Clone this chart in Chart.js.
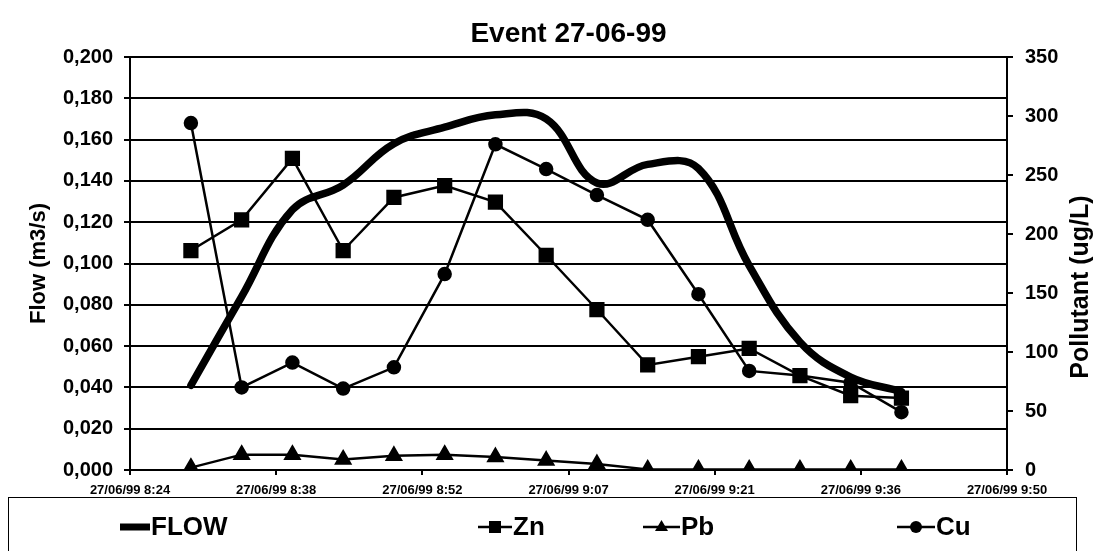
<!DOCTYPE html>
<html>
<head>
<meta charset="utf-8">
<title>Event 27-06-99</title>
<script src="https://cdn.jsdelivr.net/npm/chart.js@4/dist/chart.umd.min.js"></script>
<style>
  html, body { margin:0; padding:0; background:#fff; }
  #wrap { width:1095px; height:551px; position:relative; }
</style>
</head>
<body>
<div id="wrap"><canvas id="eventChart" width="1095" height="551"></canvas></div>
<script>
// dados (amostras a cada 5 min)
const sampleTimes = ['8:30','8:35','8:40','8:45','8:50','8:55','9:00','9:05','9:10','9:15','9:20','9:25','9:30','9:35','9:40'];
const flowValues  = [0.041, 0.084, 0.126, 0.138, 0.158, 0.166, 0.172, 0.170, 0.139, 0.148, 0.146, 0.099, 0.062, 0.045, 0.038];
const znValues    = [186, 212, 264, 186, 231, 241, 227, 182, 136, 89, 96, 103, 80, 63, 61];
const pbValues    = [2, 13, 13, 9, 12, 13, 11, 8, 5, 0.5, 0.5, 0.5, 0.5, 0.5, 0.5];
const cuValues    = [294, 70, 91, 69, 87, 166, 276, 255, 233, 212, 149, 84, 80, 74, 49];
const xTickLabels = ['27/06/99 8:24','27/06/99 8:38','27/06/99 8:52','27/06/99 9:07','27/06/99 9:21','27/06/99 9:36','27/06/99 9:50'];
const xMin = 504, xStep = 14.4;   // minutos desde 0h, passo de 0,01 dia (Excel)

(function(){
  'use strict';

  const FONT = '"Liberation Sans", Arial, Helvetica, sans-serif';
  Chart.defaults.font.family = FONT;
  Chart.defaults.color = '#000';

  function toMin(t){ const [h,m] = t.split(':').map(Number); return h*60 + m; }
  function pts(values){ return values.map((v,i) => ({ x: toMin(sampleTimes[i]), y: v })); }

  // título, títulos dos eixos e legenda em caixa (estilo Excel)
  const decor = {
    id: 'decor',
    afterDraw(chart){
      const c = chart.ctx, a = chart.chartArea;
      c.save();
      c.fillStyle = '#000';
      c.textBaseline = 'middle';
      c.textAlign = 'center';
      c.font = `bold 28px ${FONT}`;
      c.fillText('Event 27-06-99', (a.left + a.right)/2, 34);

      c.font = `bold 22px ${FONT}`;
      c.save(); c.translate(39, (a.top + a.bottom)/2); c.rotate(-Math.PI/2);
      c.fillText('Flow (m3/s)', 0, 0); c.restore();
      c.font = `bold 25px ${FONT}`;
      c.save(); c.translate(1081, 287); c.rotate(-Math.PI/2);
      c.fillText('Pollutant (ug/L)', 0, 0); c.restore();

      // caixa da legenda
      c.strokeStyle = '#000'; c.lineWidth = 1;
      c.strokeRect(8.5, 497.5, 1068, 70);
      const ly = 527;
      const items = [
        { text:'FLOW', x0:120, x1:150, w:7, mark:null },
        { text:'Zn',   x0:478, x1:512, w:2.5, mark:'rect' },
        { text:'Pb',   x0:643, x1:680, w:2.5, mark:'triangle' },
        { text:'Cu',   x0:897, x1:935, w:2.5, mark:'circle' }
      ];
      c.font = `bold 26px ${FONT}`;
      c.textAlign = 'left';
      items.forEach(it => {
        c.lineWidth = it.w;
        c.beginPath(); c.moveTo(it.x0, ly); c.lineTo(it.x1, ly); c.stroke();
        const mx = (it.x0 + it.x1)/2;
        c.beginPath();
        if (it.mark === 'rect') c.rect(mx-6, ly-6, 12, 12);
        if (it.mark === 'triangle') { c.moveTo(mx, ly-7); c.lineTo(mx+6.5, ly+4); c.lineTo(mx-6.5, ly+4); c.closePath(); }
        if (it.mark === 'circle') c.arc(mx, ly, 6, 0, Math.PI*2);
        if (it.mark) c.fill();
        c.fillText(it.text, it.x1 + 1, ly + 1);
      });
      c.restore();
    }
  };

  const thin = { borderColor:'#000', backgroundColor:'#000', pointBackgroundColor:'#000', pointBorderColor:'#000', borderWidth:2.5, tension:0, yAxisID:'y1' };
  const tickFont = { size:20, weight:'bold' };

  new Chart(document.getElementById('eventChart').getContext('2d'), {
    type: 'line',
    data: {
      datasets: [
        Object.assign({}, thin, { label:'Pb', data:pts(pbValues), pointStyle:'triangle', pointRadius:8 }),
        Object.assign({}, thin, { label:'Cu', data:pts(cuValues), pointStyle:'circle', pointRadius:6 }),
        Object.assign({}, thin, { label:'Zn', data:pts(znValues), pointStyle:'rect', pointRadius:9 }),
        { label:'FLOW', data:pts(flowValues), yAxisID:'y', borderColor:'#000', backgroundColor:'#000', borderWidth:7.5, pointRadius:0, tension:0.4, borderCapStyle:'round' }
      ]
    },
    options: {
      responsive:false, animation:false, devicePixelRatio:1,
      layout:{ padding:{ top:57, left:0, right:0, bottom:0 } },
      plugins:{ legend:{ display:false }, title:{ display:false }, tooltip:{ enabled:false } },
      scales:{
        x:{
          type:'linear', min:xMin, max:xMin + xStep*(xTickLabels.length-1),
          afterBuildTicks: s => { s.ticks = xTickLabels.map((_,i) => ({ value: xMin + xStep*i })); },
          afterFit: s => { s.height = 81; },
          ticks:{ callback:(v,i) => xTickLabels[i], font:{ size:13, weight:'bold' }, padding:8, maxRotation:0, autoSkip:false },
          grid:{ drawOnChartArea:false, color:'#000', lineWidth:2, tickLength:5 },
          border:{ color:'#000', width:2 }
        },
        y:{
          position:'left', min:0, max:0.2,
          afterFit: s => { s.width = 130; },
          ticks:{ stepSize:0.02, callback:v => v.toFixed(3).replace('.', ','), font:tickFont, padding:11 },
          grid:{ color:'#000', lineWidth:2, tickLength:6 },
          border:{ color:'#000', width:2 }
        },
        y1:{
          position:'right', min:0, max:350,
          afterFit: s => { s.width = 88; },
          ticks:{ stepSize:50, font:tickFont, padding:12 },
          grid:{ drawOnChartArea:false, color:'#000', lineWidth:2, tickLength:6 },
          border:{ color:'#000', width:2 }
        }
      }
    },
    plugins:[decor]
  });
})();
</script>
</body>
</html>
